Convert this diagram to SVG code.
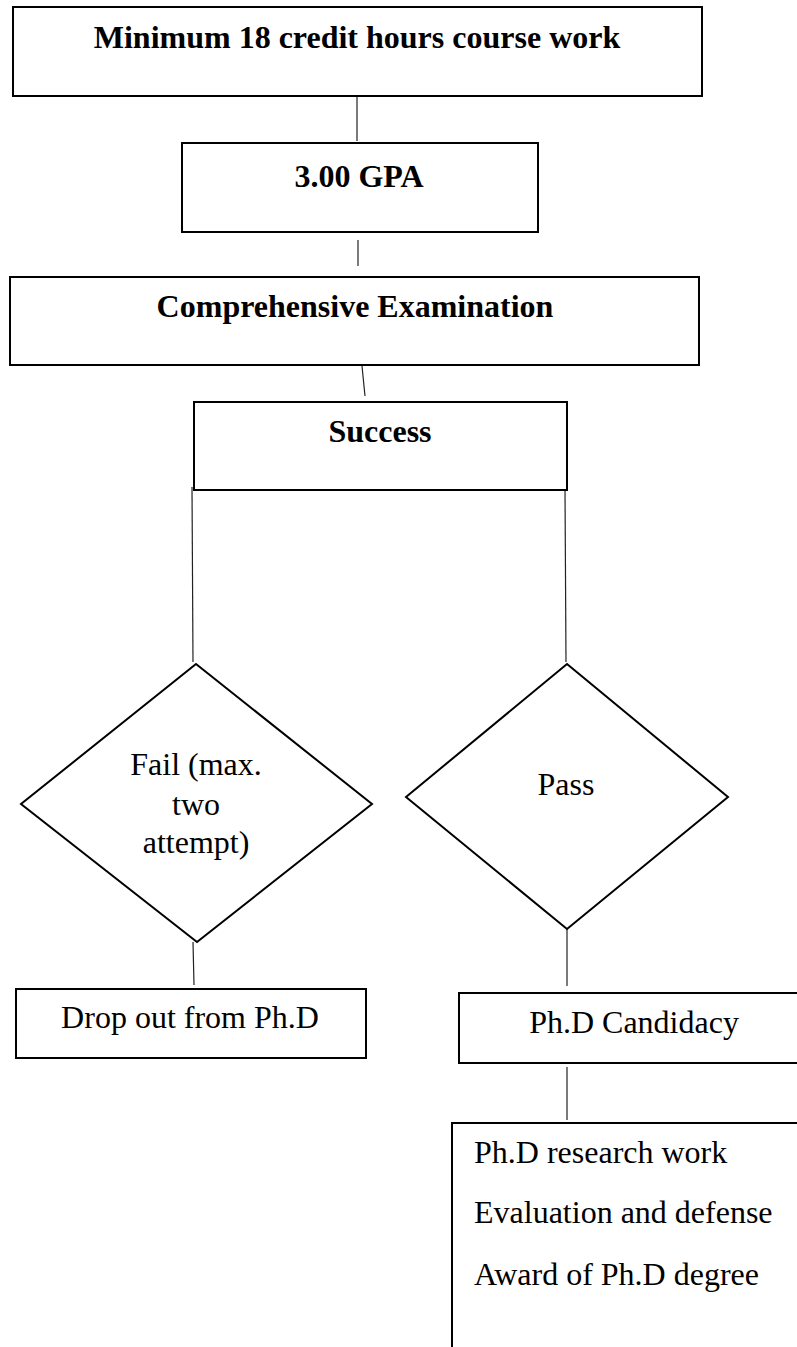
<svg xmlns="http://www.w3.org/2000/svg" width="797" height="1347" viewBox="0 0 797 1347">
<style>
.box{fill:#fff;stroke:#000;stroke-width:2}
.dia{fill:#fff;stroke:#000;stroke-width:2;stroke-linejoin:miter}
.con{stroke:#222;stroke-width:1.2;fill:none}
.b{font-family:"Liberation Serif","Times New Roman",serif;font-size:32px;font-weight:bold;fill:#000}
.t{font-family:"Liberation Serif","Times New Roman",serif;font-size:32px;fill:#000}
.c{text-anchor:middle}
</style>
<rect width="797" height="1347" fill="#fff"/>
<g id="connectors">
<line class="con" x1="357" y1="97" x2="357" y2="141"/>
<line class="con" x1="358" y1="240" x2="358" y2="266"/>
<line class="con" x1="362" y1="366" x2="365" y2="396"/>
<line class="con" x1="192" y1="487" x2="193" y2="662"/>
<line class="con" x1="565" y1="490" x2="566" y2="662"/>
<line class="con" x1="193" y1="942" x2="194" y2="985"/>
<line class="con" x1="567" y1="929" x2="567" y2="986"/>
<line class="con" x1="567" y1="1067" x2="567" y2="1120"/>
</g>
<g id="n1">
<rect class="box" x="13" y="7" width="689" height="89"/>
<text class="b c" x="357" y="48">Minimum 18 credit hours course work</text>
</g>
<g id="n2">
<rect class="box" x="182" y="143" width="356" height="89"/>
<text class="b c" x="359" y="187">3.00 GPA</text>
</g>
<g id="n3">
<rect class="box" x="10" y="277" width="689" height="88"/>
<text class="b c" x="355" y="317">Comprehensive Examination</text>
</g>
<g id="n4">
<rect class="box" x="194" y="402" width="373" height="88"/>
<text class="b c" x="380" y="442">Success</text>
</g>
<g id="fail">
<polygon class="dia" points="196,664 372,804 197,942 21,804"/>
<text class="t c" x="196" y="775">Fail (max.</text>
<text class="t c" x="196" y="815">two</text>
<text class="t c" x="196" y="853">attempt)</text>
</g>
<g id="pass">
<polygon class="dia" points="567,664 728,797 567,929 406,797"/>
<text class="t c" x="566" y="795">Pass</text>
</g>
<g id="dropout">
<rect class="box" x="16" y="989" width="350" height="69"/>
<text class="t c" x="190" y="1028">Drop out from Ph.D</text>
</g>
<g id="candidacy">
<rect class="box" x="459" y="993" width="345" height="70"/>
<text class="t c" x="634" y="1033">Ph.D Candidacy</text>
</g>
<g id="research">
<rect class="box" x="452" y="1123" width="350" height="240"/>
<text class="t" x="474" y="1163">Ph.D research work</text>
<text class="t" x="474" y="1223">Evaluation and defense</text>
<text class="t" x="474" y="1285">Award of Ph.D degree</text>
</g>
</svg>
